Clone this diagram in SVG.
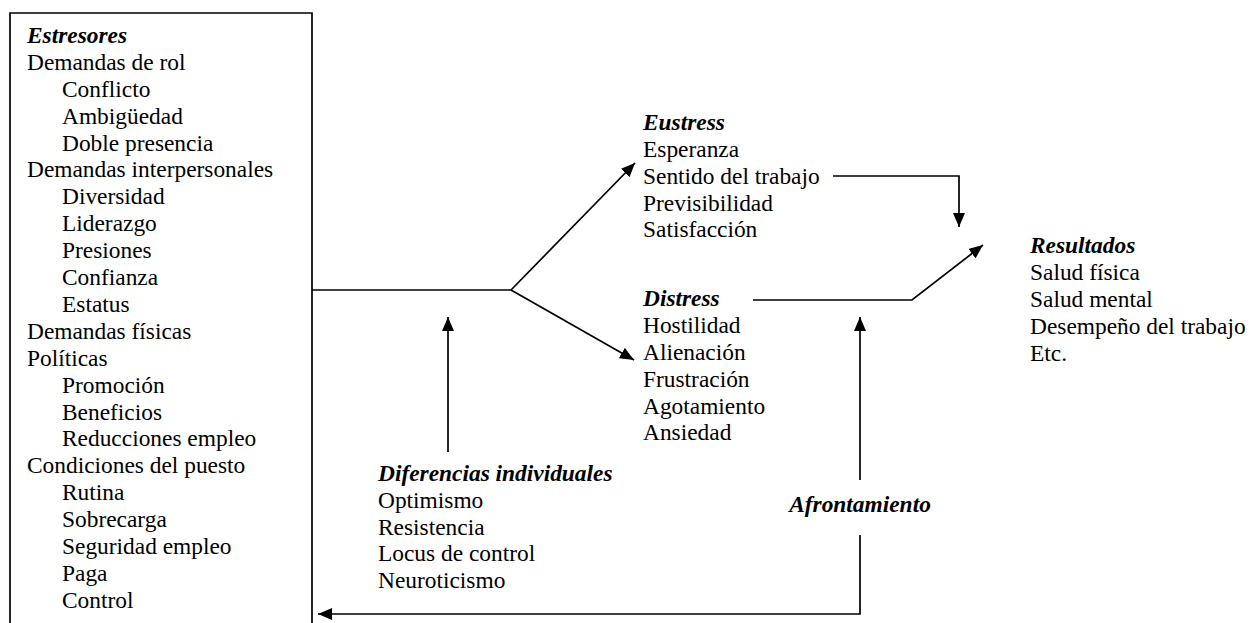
<svg xmlns="http://www.w3.org/2000/svg" width="1251" height="623" viewBox="0 0 1251 623">
<defs>
<marker id="ah" viewBox="0 0 14 12" refX="14" refY="6" markerWidth="14" markerHeight="12" markerUnits="userSpaceOnUse" orient="auto">
<path d="M0,0 L14,6 L0,12 Z" fill="#000"/>
</marker>
</defs>
<rect width="1251" height="623" fill="#fff"/>
<g id="estresores">
<path d="M10,630 V13 H312 V630" fill="none" stroke="#000" stroke-width="1.7"/>
<text x="27" y="43" style="font-family:'Liberation Serif',serif;font-size:23.4px;font-weight:bold;font-style:italic">Estresores</text>
<text x="27" y="70" style="font-family:'Liberation Serif',serif;font-size:23.4px">Demandas de rol</text>
<text x="62" y="97" style="font-family:'Liberation Serif',serif;font-size:23.4px">Conflicto</text>
<text x="62" y="124" style="font-family:'Liberation Serif',serif;font-size:23.4px">Ambigüedad</text>
<text x="62" y="151" style="font-family:'Liberation Serif',serif;font-size:23.4px">Doble presencia</text>
<text x="27" y="177" style="font-family:'Liberation Serif',serif;font-size:23.4px">Demandas interpersonales</text>
<text x="62" y="204" style="font-family:'Liberation Serif',serif;font-size:23.4px">Diversidad</text>
<text x="62" y="231" style="font-family:'Liberation Serif',serif;font-size:23.4px">Liderazgo</text>
<text x="62" y="258" style="font-family:'Liberation Serif',serif;font-size:23.4px">Presiones</text>
<text x="62" y="285" style="font-family:'Liberation Serif',serif;font-size:23.4px">Confianza</text>
<text x="62" y="312" style="font-family:'Liberation Serif',serif;font-size:23.4px">Estatus</text>
<text x="27" y="339" style="font-family:'Liberation Serif',serif;font-size:23.4px">Demandas físicas</text>
<text x="27" y="366" style="font-family:'Liberation Serif',serif;font-size:23.4px">Políticas</text>
<text x="62" y="393" style="font-family:'Liberation Serif',serif;font-size:23.4px">Promoción</text>
<text x="62" y="420" style="font-family:'Liberation Serif',serif;font-size:23.4px">Beneficios</text>
<text x="62" y="446" style="font-family:'Liberation Serif',serif;font-size:23.4px">Reducciones empleo</text>
<text x="27" y="473" style="font-family:'Liberation Serif',serif;font-size:23.4px">Condiciones del puesto</text>
<text x="62" y="500" style="font-family:'Liberation Serif',serif;font-size:23.4px">Rutina</text>
<text x="62" y="527" style="font-family:'Liberation Serif',serif;font-size:23.4px">Sobrecarga</text>
<text x="62" y="554" style="font-family:'Liberation Serif',serif;font-size:23.4px">Seguridad empleo</text>
<text x="62" y="581" style="font-family:'Liberation Serif',serif;font-size:23.4px">Paga</text>
<text x="62" y="608" style="font-family:'Liberation Serif',serif;font-size:23.4px">Control</text>
</g>
<g id="eustress">
<text x="643" y="130" style="font-family:'Liberation Serif',serif;font-size:23.4px;font-weight:bold;font-style:italic">Eustress</text>
<text x="643" y="157" style="font-family:'Liberation Serif',serif;font-size:23.4px">Esperanza</text>
<text x="643" y="184" style="font-family:'Liberation Serif',serif;font-size:23.4px">Sentido del trabajo</text>
<text x="643" y="211" style="font-family:'Liberation Serif',serif;font-size:23.4px">Previsibilidad</text>
<text x="643" y="237" style="font-family:'Liberation Serif',serif;font-size:23.4px">Satisfacción</text>
</g>
<g id="distress">
<text x="643" y="306" style="font-family:'Liberation Serif',serif;font-size:23.4px;font-weight:bold;font-style:italic">Distress</text>
<text x="643" y="333" style="font-family:'Liberation Serif',serif;font-size:23.4px">Hostilidad</text>
<text x="643" y="360" style="font-family:'Liberation Serif',serif;font-size:23.4px">Alienación</text>
<text x="643" y="387" style="font-family:'Liberation Serif',serif;font-size:23.4px">Frustración</text>
<text x="643" y="414" style="font-family:'Liberation Serif',serif;font-size:23.4px">Agotamiento</text>
<text x="643" y="440" style="font-family:'Liberation Serif',serif;font-size:23.4px">Ansiedad</text>
</g>
<g id="resultados">
<text x="1030" y="253" style="font-family:'Liberation Serif',serif;font-size:23.4px;font-weight:bold;font-style:italic">Resultados</text>
<text x="1030" y="280" style="font-family:'Liberation Serif',serif;font-size:23.4px">Salud física</text>
<text x="1030" y="307" style="font-family:'Liberation Serif',serif;font-size:23.4px">Salud mental</text>
<text x="1030" y="334" style="font-family:'Liberation Serif',serif;font-size:23.4px">Desempeño del trabajo</text>
<text x="1030" y="361" style="font-family:'Liberation Serif',serif;font-size:23.4px">Etc.</text>
</g>
<g id="diferencias">
<text x="378" y="481" style="font-family:'Liberation Serif',serif;font-size:23.4px;font-weight:bold;font-style:italic">Diferencias individuales</text>
<text x="378" y="508" style="font-family:'Liberation Serif',serif;font-size:23.4px">Optimismo</text>
<text x="378" y="535" style="font-family:'Liberation Serif',serif;font-size:23.4px">Resistencia</text>
<text x="378" y="561" style="font-family:'Liberation Serif',serif;font-size:23.4px">Locus de control</text>
<text x="378" y="588" style="font-family:'Liberation Serif',serif;font-size:23.4px">Neuroticismo</text>
</g>
<g id="afrontamiento">
<text x="860" y="512" text-anchor="middle" style="font-family:'Liberation Serif',serif;font-size:23.4px;font-weight:bold;font-style:italic">Afrontamiento</text>
</g>
<g id="connectors" fill="none" stroke="#000" stroke-width="1.7">
<path d="M312,290 H511"/>
<path d="M511,290 L635,163" marker-end="url(#ah)"/>
<path d="M511,290 L634,360" marker-end="url(#ah)"/>
<path d="M833,176 H959 V227" marker-end="url(#ah)"/>
<path d="M753,300 H912 L983,245" marker-end="url(#ah)"/>
<path d="M448,452 V317" marker-end="url(#ah)"/>
<path d="M860,480 V317" marker-end="url(#ah)"/>
<path d="M860,535 V614 H318" marker-end="url(#ah)"/>
</g>
</svg>
